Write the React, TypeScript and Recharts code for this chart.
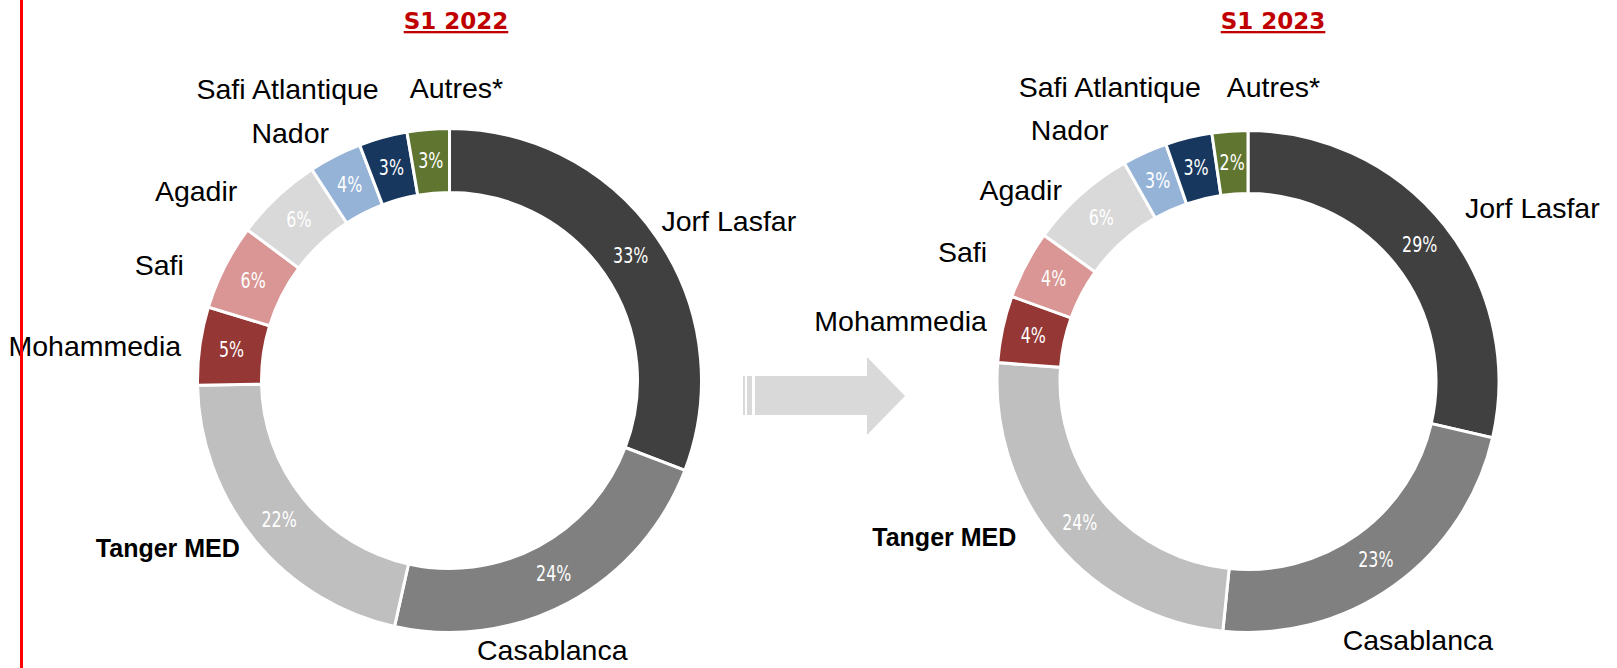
import React from 'react';
import { PieChart, Pie, Cell } from 'recharts';

const categories = ['Jorf Lasfar', 'Casablanca', 'Tanger MED', 'Mohammedia', 'Safi', 'Agadir', 'Nador', 'Safi Atlantique', 'Autres*'];
const shares2022 = [30.8, 22.7, 21.2, 5.0, 5.5, 5.6, 3.4, 3.1, 2.7];
const labels2022 = ['33%', '24%', '22%', '5%', '6%', '6%', '4%', '3%', '3%'];
const shares2023 = [28.6, 23.0, 24.6, 4.3, 4.4, 6.9, 2.9, 3.0, 2.3];
const labels2023 = ['29%', '23%', '24%', '4%', '4%', '6%', '3%', '3%', '2%'];
const titles = ['S1 2022', 'S1 2023'];
const boldCategories = ['Tanger MED'];

const colors = ['#404040', '#808080', '#BFBFBF', '#953735', '#D99694', '#D9D9D9', '#95B3D7', '#17375E', '#5F7530'];

// small manual offsets of the category names (as placed by hand in the original)
const nameNudge2022: [number, number][] = [[-12, 9], [-26, 16], [1, -19], [1, 3], [-23, 21], [-26, 23], [3, 9], [1, -15], [30, -7]];
const nameNudge2023: [number, number][] = [[5, 9], [12, 24], [-24, -33], [4, -4], [-21, 11], [-5, 24], [-28, 9], [17, -17], [45, -10]];

const W = 1617;
const H = 668;
const RAD = Math.PI / 180;
const NAME_FONT = '"Liberation Sans", Arial, sans-serif';
const PCT_FONT = '"DejaVu Sans Condensed", "DejaVu Sans", sans-serif';

const build = (shares: number[], pcts: string[]) =>
  categories.map((name, i) => ({ name, value: shares[i], pct: pcts[i] }));

const data2022 = build(shares2022, labels2022);
const data2023 = build(shares2023, labels2023);

const makeLabel = (nudges: [number, number][]) => (props: any) => {
  const { cx, cy, midAngle, innerRadius, outerRadius, payload, index } = props;
  const dx = Math.cos(-midAngle * RAD);
  const dy = Math.sin(-midAngle * RAD);
  const mid = (innerRadius + outerRadius) / 2;
  const px = cx + mid * dx;
  const py = cy + mid * dy;
  const r = outerRadius + 20;
  let lx = cx + r * dx;
  let ly = cy + r * dy;
  const isTop = dy < -0.3;
  const isBottom = dy > 0.3;
  const thr = isBottom ? 0.6 : 0.2;
  let anchor: 'start' | 'end' | 'middle' = 'middle';
  if (dx > thr) anchor = 'start';
  else if (dx < -thr) anchor = 'end';
  if (isTop) ly -= 14;
  if (isBottom) ly += 14;
  const n = nudges[index] || [0, 0];
  lx += n[0];
  ly += n[1];
  const name = payload.name;
  const bold = boldCategories.includes(name);
  return (
    <g key={`lbl-${index}`}>
      <text
        transform={`translate(${px},${py}) scale(0.84,1)`}
        x={0}
        y={0}
        textAnchor="middle"
        dominantBaseline="central"
        fill="#FFFFFF"
        fontFamily={PCT_FONT}
        fontSize={21}
      >
        {payload.pct}
      </text>
      <text
        x={lx}
        y={ly}
        textAnchor={anchor}
        dominantBaseline="central"
        fill="#000000"
        fontFamily={NAME_FONT}
        fontSize={bold ? 25 : 28.5}
        fontWeight={bold ? 'bold' : 'normal'}
      >
        {name}
      </text>
    </g>
  );
};

const Decorations = () => (
  <svg width={W} height={H} style={{ position: 'absolute', left: 0, top: 0, pointerEvents: 'none' }}>
    <rect x={20} y={0} width={3} height={H} fill="#FF0000" />
    <rect x={743} y={376} width={2} height={39} fill="#D9D9D9" />
    <rect x={747} y={376} width={5} height={39} fill="#D9D9D9" />
    <polygon points="755,376 867,376 867,357 905,396 867,435 867,415 755,415" fill="#D9D9D9" />
    <text x={456} y={29} textAnchor="middle" fill="#C00000" fontFamily='"DejaVu Sans", sans-serif' fontWeight="bold" fontSize={23} style={{ textDecoration: 'underline' }}>
      {titles[0]}
    </text>
    <text x={1273} y={29} textAnchor="middle" fill="#C00000" fontFamily='"DejaVu Sans", sans-serif' fontWeight="bold" fontSize={23} style={{ textDecoration: 'underline' }}>
      {titles[1]}
    </text>
  </svg>
);

export default function App() {
  return (
    <div style={{ position: 'fixed', left: 0, top: 0, width: W, height: H, background: '#FFFFFF', overflow: 'hidden' }}>
      <PieChart width={W} height={H} margin={{ top: 0, right: 0, bottom: 0, left: 0 }} style={{ position: 'absolute', left: 0, top: 0 }}>
        <Pie
          data={data2022}
          dataKey="value"
          nameKey="name"
          cx={449.5}
          cy={380.5}
          innerRadius={188}
          outerRadius={252}
          startAngle={90}
          endAngle={-270}
          stroke="#FFFFFF"
          strokeWidth={3}
          label={makeLabel(nameNudge2022)}
          labelLine={false}
          isAnimationActive={false}
        >
          {data2022.map((d, i) => (
            <Cell key={d.name} fill={colors[i]} />
          ))}
        </Pie>
        <Pie
          data={data2023}
          dataKey="value"
          nameKey="name"
          cx={1248}
          cy={381.5}
          innerRadius={188}
          outerRadius={251}
          startAngle={90}
          endAngle={-270}
          stroke="#FFFFFF"
          strokeWidth={3}
          label={makeLabel(nameNudge2023)}
          labelLine={false}
          isAnimationActive={false}
        >
          {data2023.map((d, i) => (
            <Cell key={d.name} fill={colors[i]} />
          ))}
        </Pie>
      </PieChart>
      <Decorations />
    </div>
  );
}
